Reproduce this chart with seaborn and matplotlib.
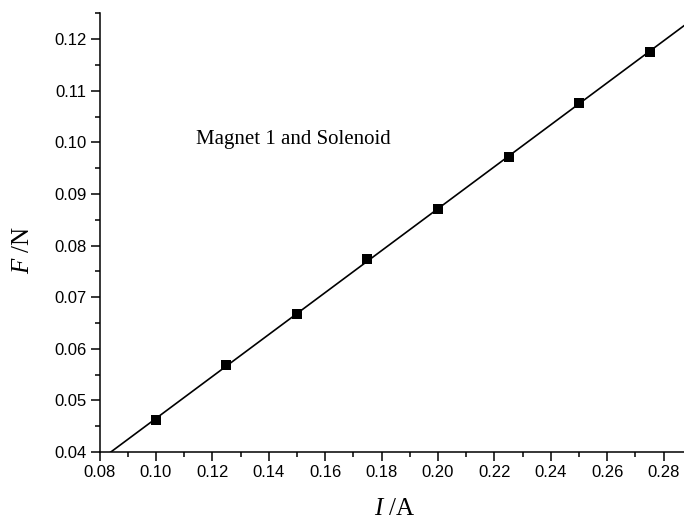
import numpy as np
import pandas as pd
import matplotlib
matplotlib.use("Agg")
import matplotlib.pyplot as plt
from matplotlib.ticker import MultipleLocator, FormatStrFormatter
import seaborn as sns

current = [0.100, 0.125, 0.150, 0.175, 0.200, 0.225, 0.250, 0.275]
force = [0.0462, 0.0569, 0.0667, 0.0774, 0.0872, 0.0971, 0.1077, 0.1175]
annotation = "Magnet 1 and Solenoid"

sns.set_theme(style="ticks")
plt.rcParams["font.family"] = ["Liberation Sans", "DejaVu Sans"]
plt.rcParams["mathtext.fontset"] = "custom"
plt.rcParams["mathtext.it"] = "Liberation Serif:italic"
plt.rcParams["mathtext.rm"] = "Liberation Serif"

fig = plt.figure(figsize=(6.84, 5.21), dpi=100)
ax = fig.add_axes([99.5 / 684, (521 - 452) / 521, 1 - 99.5 / 684, (452 - 13.5) / 521])

df = pd.DataFrame({"I": current, "F": force})
slope, intercept = np.polyfit(df["I"], df["F"], 1)
xfit = np.linspace(0.07, 0.30, 50)
fit = pd.DataFrame({"I": xfit, "F": slope * xfit + intercept})

sns.lineplot(data=fit, x="I", y="F", ax=ax, color="black", lw=1.2)
sns.scatterplot(data=df, x="I", y="F", ax=ax, marker="s", s=55, color="black",
                edgecolor="black", linewidth=0, zorder=3)

ax.set_xlim(0.08, 0.2872)
ax.set_ylim(0.04, 0.125)
ax.xaxis.set_major_locator(MultipleLocator(0.02))
ax.xaxis.set_minor_locator(MultipleLocator(0.01))
ax.yaxis.set_major_locator(MultipleLocator(0.01))
ax.yaxis.set_minor_locator(MultipleLocator(0.005))
ax.xaxis.set_major_formatter(FormatStrFormatter("%.2f"))
ax.yaxis.set_major_formatter(FormatStrFormatter("%.2f"))
ax.tick_params(which="major", direction="out", length=6.5, width=1.1, labelsize=12,
               color="black", labelcolor="black", pad=3)
ax.tick_params(which="minor", direction="out", length=3.5, width=1.1, color="black")
for s in ["top", "right"]:
    ax.spines[s].set_visible(False)
for s in ["left", "bottom"]:
    ax.spines[s].set_linewidth(1.1)
    ax.spines[s].set_color("black")

ax.set_xlabel("")
ax.set_ylabel("")
ax.text(0.5055, -0.13, r"$\it{I}$ /A", transform=ax.transAxes, ha="center", va="center",
        fontsize=18, family=["Liberation Serif"], color="black")
ax.text(-0.131, 0.46, r"$\it{F}$ /N", transform=ax.transAxes, ha="center", va="center",
        rotation=90, fontsize=18, family=["Liberation Serif"], color="black")

ax.text(196, 521 - 144, annotation, transform=None, ha="left", va="baseline",
        fontsize=15, family=["Liberation Serif"], color="black")

fig.savefig("out.png", dpi=100)
